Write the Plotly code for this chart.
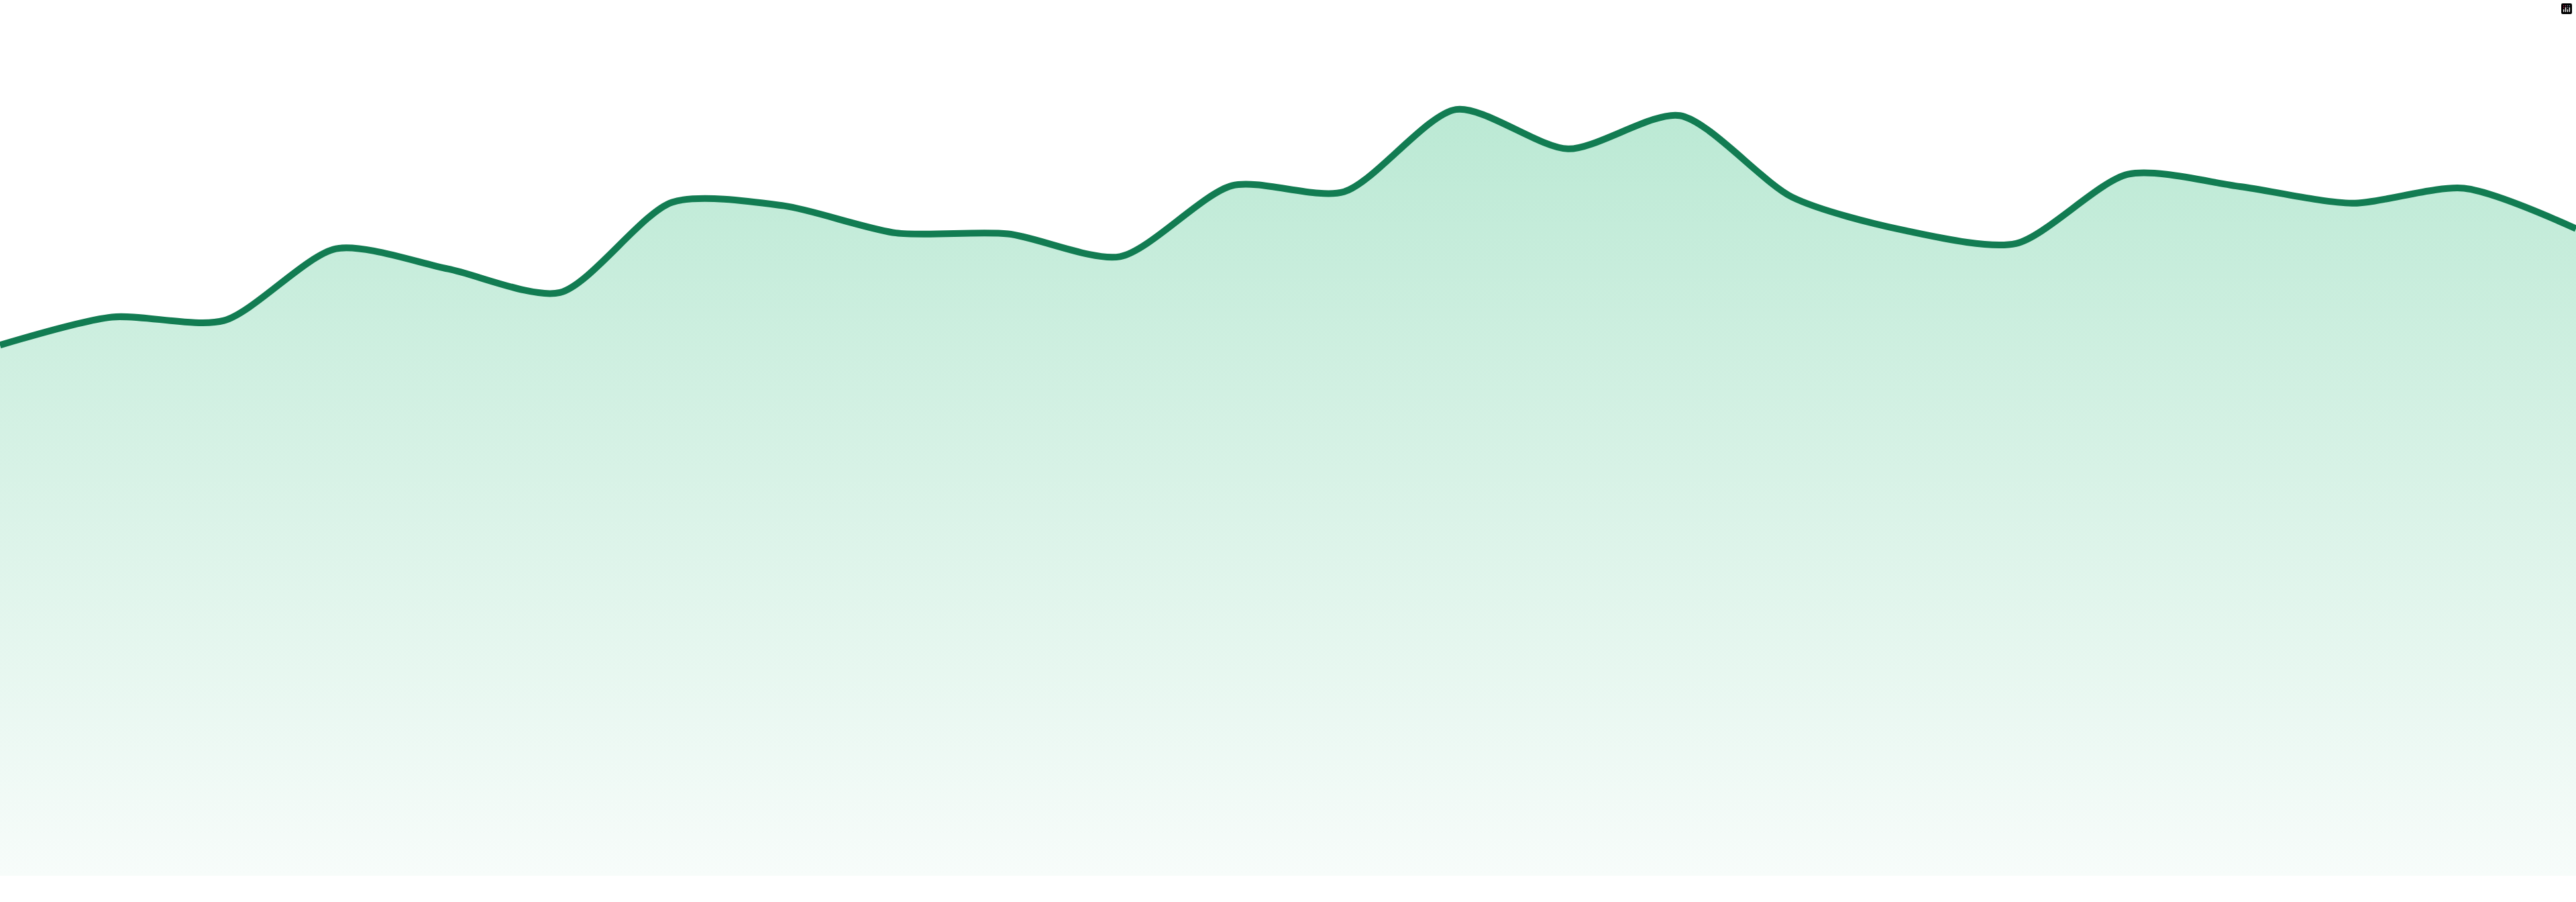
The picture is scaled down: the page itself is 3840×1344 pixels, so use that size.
import plotly.graph_objects as go

# one point per period
periods = list(range(24))
values = [60.6, 63.8, 63.4, 71.6, 69.3, 66.6, 76.9, 76.5, 73.4, 73.3, 70.7, 78.8,
          78.1, 87.5, 83.0, 86.8, 77.5, 73.7, 72.2, 80.1, 78.7, 76.8, 78.5, 73.9]

line_color = "rgb(18,124,82)"
fill_top = "rgb(187,233,212)"
fill_bottom = "rgb(247,252,250)"

fig = go.Figure()
fig.add_trace(
    go.Scatter(
        x=periods,
        y=values,
        mode="lines",
        line=dict(color=line_color, width=10, shape="spline", smoothing=0.75),
        fill="tozeroy",
        fillgradient=dict(
            type="vertical",
            colorscale=[[0, fill_bottom], [1, fill_top]],
            start=0,
            stop=max(values),
        ),
        hoverinfo="skip",
    )
)

fig.update_layout(
    autosize=True,
    margin=dict(l=0, r=0, t=0, b=39),
    paper_bgcolor="white",
    plot_bgcolor="white",
    showlegend=False,
    # keep the modebar invisible
    modebar=dict(bgcolor="rgba(0,0,0,0)", color="rgba(0,0,0,0)",
                 activecolor="rgba(0,0,0,0)"),
)
fig.update_xaxes(range=[0, 23], visible=False, showgrid=False, zeroline=False)
fig.update_yaxes(range=[0, 100], visible=False, showgrid=False, zeroline=False)

# drop the default page margin so the chart fills the window
fix_page = (
    "document.body.style.margin='0';"
    "document.documentElement.style.overflow='hidden';"
    "Plotly.Plots.resize(document.getElementById('{plot_id}'));"
)
fig.write_html("out.html", default_width="100vw", default_height="100vh",
               post_script=fix_page)
